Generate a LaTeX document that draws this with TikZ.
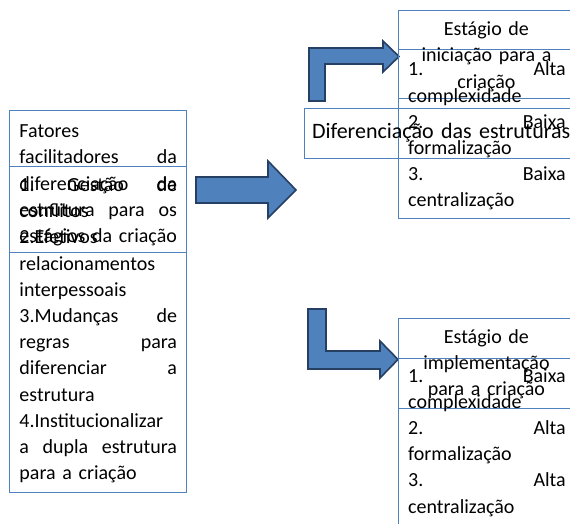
\documentclass[tikz,border=0pt]{standalone}
\usepackage{fontspec}
\setmainfont{Carlito}
\definecolor{boxblue}{RGB}{79,129,189}
\definecolor{arrfill}{RGB}{79,129,189}
\definecolor{arrline}{RGB}{38,64,100}
\hyphenpenalty=10000
\exhyphenpenalty=10000
\begin{document}
\begin{tikzpicture}[x=1pt,y=-1pt,
  box/.style={draw=boxblue, line width=0.8pt, inner sep=0pt, anchor=north west},
  para/.style={font=\fontsize{20}{26.2}\selectfont, inner sep=0pt,
    anchor=base west, text width=157.5pt, text=black},
  ttl/.style={para, align=center},
  blockarrow/.style={fill=arrfill, draw=arrline, line width=1.6pt, line join=miter}]
\clip (0,0) rectangle (570,524);
% block arrows
\draw[blockarrow] (196,177) -- (268,177) -- (268,161) -- (296,190) -- (268,218)
  -- (268,203) -- (196,203) -- cycle;
\draw[blockarrow] (309,101) -- (309,48) -- (383,48) -- (383,41) -- (399,56.5)
  -- (383,72) -- (383,64) -- (325,64) -- (325,101) -- cycle;
\draw[blockarrow] (308,309) -- (326,309) -- (326,351) -- (380,351) -- (380,341)
  -- (398,359.5) -- (380,378) -- (380,369) -- (308,369) -- cycle;
% boxes
\node[box, minimum width=177pt, minimum height=142pt] (boxA) at (9,110) {};
\node[box, minimum width=177pt, minimum height=326pt] (boxB) at (9,166) {};
\node[box, minimum width=280pt, minimum height=50pt] (boxD) at (304,108) {};
\node[box, minimum width=177pt, minimum height=88.5pt] (boxT1) at (398,10) {};
\node[box, minimum width=177pt, minimum height=169pt] (boxL1) at (398,49) {};
\node[box, minimum width=177pt, minimum height=90pt] (boxT2) at (398,318) {};
\node[box, minimum width=177pt, minimum height=190pt] (boxL2) at (398,358) {};
% texts
\node[para] (txtA) at (19.3,137.7) {Fatores\\
facilitadores\hfill da\\
diferenciação\hfill da\\
estrutura\hfill para\hfill os\\
estágios da criação};
\node[para] (txtB) at (19.3,191.5) {1.\hfill Gestão\hfill de\\
conflitos\\
2.Efetivos\\
relacionamentos\\
interpessoais\\
3.Mudanças\hfill de\\
regras\hfill para\\
diferenciar\hfill a\\
estrutura\\
4.Institucionalizar\\
a\hfill dupla\hfill estrutura\\
para a criação};
\node[para, text width=300pt, font=\fontsize{22}{26}\selectfont] (txtD) at (311.8,139)
  {Diferenciação das estruturas};
\node[ttl] (txtT1) at (407.5,35.7) {Estágio de\\ iniciação para a\\ criação};
\node[para] (txtL1) at (408,76) {1.\hfill Alta\\
complexidade\\
2.\hfill Baixa\\
formalização\\
3.\hfill Baixa\\
centralização};
\node[ttl] (txtT2) at (407.5,343) {Estágio de\\ implementação\\ para a criação};
\node[para] (txtL2) at (408,382) {1.\hfill Baixa\\
complexidade\\
2.\hfill Alta\\
formalização\\
3.\hfill Alta\\
centralização};
\end{tikzpicture}
\end{document}
